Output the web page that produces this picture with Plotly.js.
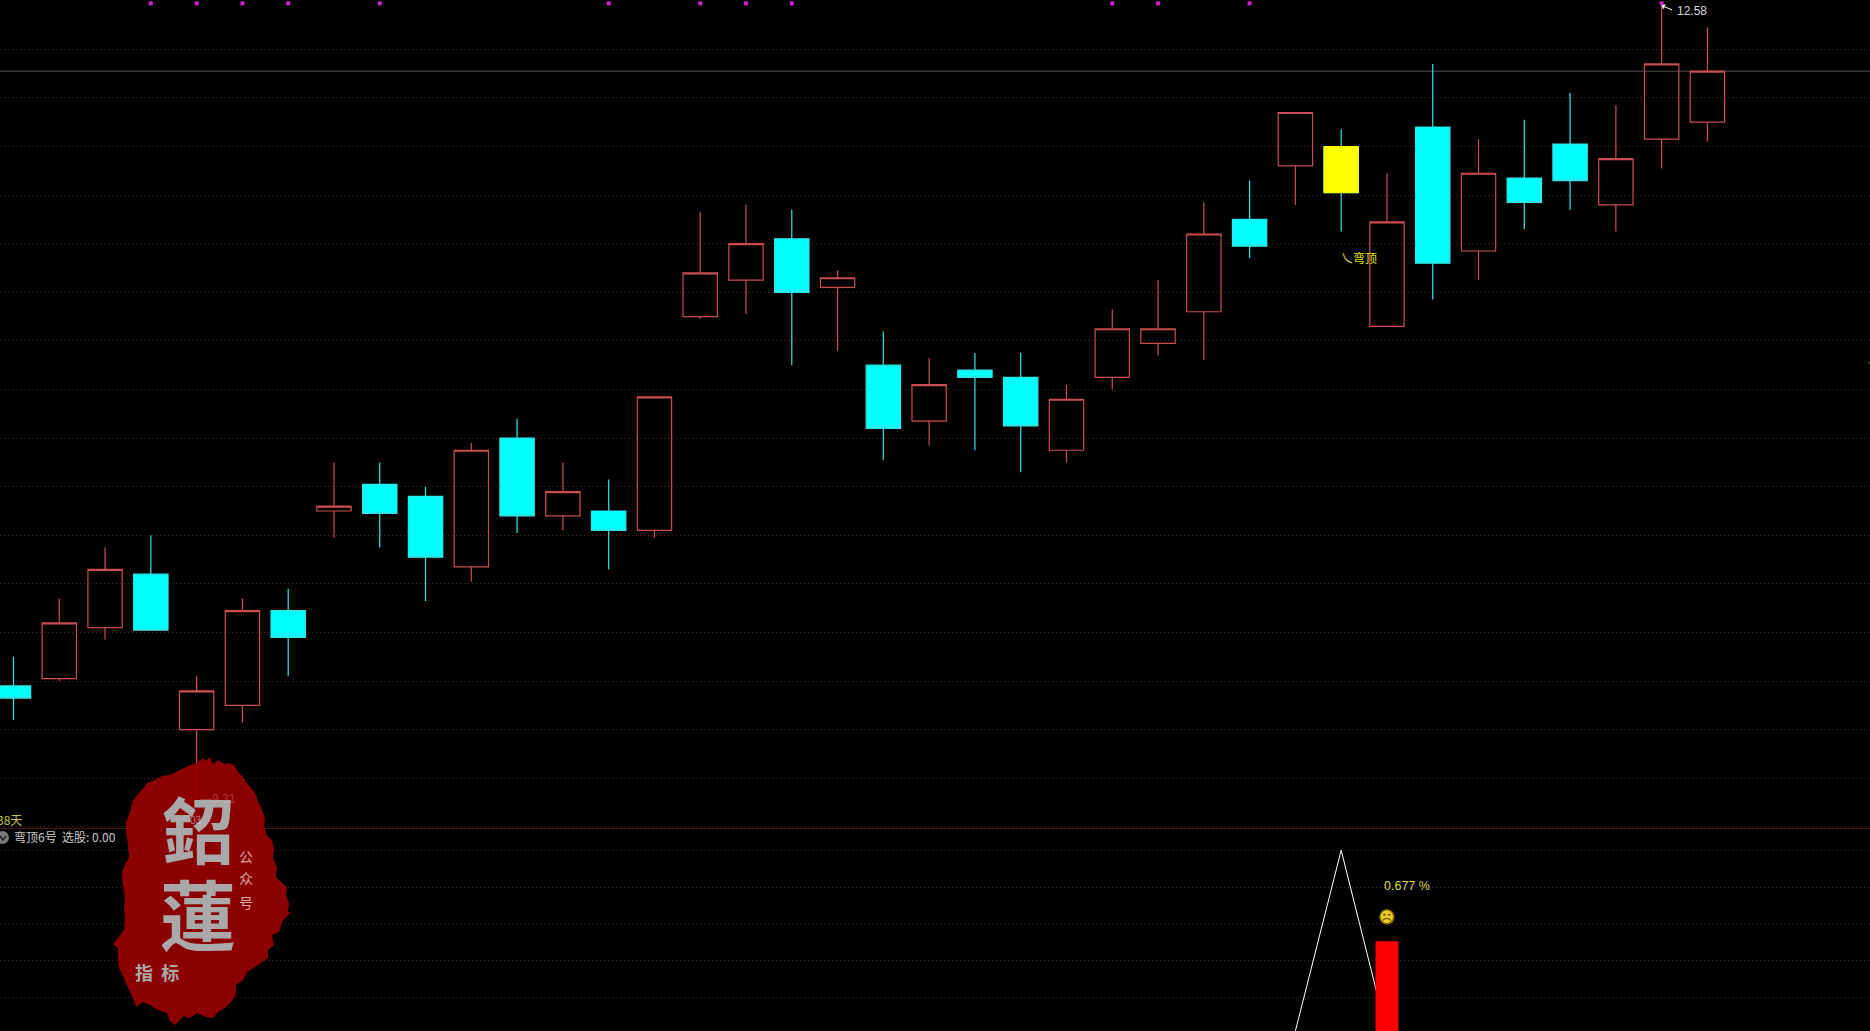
<!DOCTYPE html>
<html><head><meta charset="utf-8">
<script src="https://cdn.plot.ly/plotly-3.0.1.min.js"></script>
<style>html,body{margin:0;padding:0;background:#000;overflow:hidden}#c{width:1870px;height:1031px}</style>
</head><body><div id="c"></div>
<script>
// ---- price data ----
const days   = [0,1,2,3,4,5,6,7,8,9,10,11,12,13,14,15,16,17,18,19,20,21,22,23,24,25,26,27,28,29,30,31,32,33,34,35,36,37];
const opens  = [9.78,9.81,10.02,10.24,9.60,9.70,10.09,10.50,10.61,10.56,10.27,10.80,10.48,10.50,10.42,11.30,11.45,11.62,11.42,11.10,10.87,11.08,11.05,10.75,11.05,11.19,11.32,11.70,11.92,12.00,11.26,12.08,11.57,11.87,12.01,11.76,12.03,12.10];
const highs  = [9.90,10.14,10.35,10.40,9.82,10.14,10.18,10.70,10.70,10.60,10.78,10.88,10.70,10.63,10.97,11.73,11.76,11.74,11.49,11.24,11.13,11.15,11.15,11.02,11.33,11.45,11.77,11.86,12.14,12.07,11.89,12.34,12.03,12.11,12.22,12.17,12.58,12.49];
const lows   = [9.64,9.80,9.97,10.01,9.31,9.63,9.82,10.39,10.35,10.13,10.21,10.41,10.42,10.26,10.39,11.29,11.31,11.10,11.16,10.71,10.77,10.75,10.66,10.70,11.00,11.14,11.12,11.54,11.76,11.65,11.26,11.37,11.45,11.66,11.74,11.65,11.91,12.02];
const closes = [9.73,10.04,10.26,10.01,9.76,10.09,9.98,10.52,10.49,10.31,10.75,10.48,10.58,10.42,10.97,11.48,11.60,11.40,11.46,10.84,11.02,11.05,10.85,10.96,11.25,11.25,11.64,11.59,12.14,11.81,11.69,11.52,11.89,11.77,11.86,11.95,12.34,12.31];
const signalDay = [29], signalOpen = [12.00], signalClose = [11.81];
const markDays = [3,4,5,6,8,13,15,16,17,24,25,27,36];
const markLevel = [12.589,12.589,12.589,12.589,12.589,12.589,12.589,12.589,12.589,12.589,12.589,12.589,12.589];
const lastPrice = 12.31, highLabel = '12.58', lowLabel = '—9.31', rightTickPrice = 11.11;
// ---- lower indicator ----
const lineDays = [28,29,30];
const lineVals = [-0.92,4.01,-0.97];
const barDays = [30], barTop = [3.53], barBase = [-2];
const faceDay = [30], faceVal = [2.19];
const pctLabel = '0.677 %';
const indicatorTitle = '弯顶6号&nbsp;&nbsp;选股: 0.00';
const daysLabel = '38天';

// ---- page geometry helpers ----
const W = 1870, H = 1031, split = 829;
const px = x => x / W, py = y => 1 - y / H;
const red = '#cb4e4e', cyan = '#00ffff', yellow = '#ffff00';
const cjk = '"Noto Sans CJK SC","Noto Sans",sans-serif';

const sealOutline = [[197,763],[203,758],[206,761],[210,757],[213,764],[218,760],[224,764],[230,763],[235,766],[238,772],[244,778],[247,784],[250,786],[256,795],[258,802],[260,805],[265,818],[264,826],[267,836],[272,840],[274,850],[273,858],[277,868],[276,877],[281,882],[287,887],[286,895],[289,903],[288,912],[291,913],[283,920],[279,932],[272,935],[274,945],[268,950],[268,958],[258,965],[247,972],[243,980],[236,985],[236,995],[230,1003],[225,1008],[218,1012],[213,1018],[206,1017],[197,1013],[190,1018],[184,1016],[175,1025],[170,1021],[167,1013],[158,1010],[150,1005],[143,1002],[136,1007],[133,998],[128,988],[124,978],[119,968],[118,958],[118,948],[113,944],[118,938],[124,930],[125,918],[124,908],[125,898],[123,885],[122,872],[125,865],[129,857],[128,845],[126,832],[126,822],[130,812],[133,800],[140,792],[147,783],[155,780],[162,776],[170,775],[180,770],[190,765]];
const sealPath = 'M' + sealOutline.map(p => px(p[0]).toFixed(5) + ' ' + py(p[1]).toFixed(5)).join(' L') + ' Z';

const traces = [
  {type:'candlestick', x:days, open:opens, high:highs, low:lows, close:closes, whiskerwidth:0,
   increasing:{line:{color:red,width:1.2}, fillcolor:'rgba(0,0,0,0)'},
   decreasing:{line:{color:'#2ce8e8',width:1.2}, fillcolor:cyan}, hoverinfo:'skip'},
  {type:'candlestick', x:signalDay, open:signalOpen, high:signalOpen, low:signalClose, close:signalClose, whiskerwidth:0,
   increasing:{line:{color:yellow,width:1}, fillcolor:yellow},
   decreasing:{line:{color:yellow,width:1}, fillcolor:yellow}, hoverinfo:'skip'},
  {type:'scatter', mode:'markers', x:markDays, y:markLevel, marker:{symbol:'square', size:4, color:'#d41ed4'}, hoverinfo:'skip', cliponaxis:false},
  {type:'scatter', mode:'lines', x:lineDays, y:lineVals, yaxis:'y2', line:{color:'#ffffff',width:1}, hoverinfo:'skip'},
  {type:'bar', x:barDays, y:barTop, base:barBase, yaxis:'y3', width:0.5, marker:{color:'#ff0000',line:{width:0}}, hoverinfo:'skip'},
  {type:'scatter', mode:'markers', x:faceDay, y:faceVal, yaxis:'y2', marker:{symbol:'circle', size:15, color:'#f0cc28'}, hoverinfo:'skip'}
];

const layout = {
  width:W, height:H, margin:{l:0,r:0,t:0,b:0}, showlegend:false,
  paper_bgcolor:'#000', plot_bgcolor:'#000', boxgap:0.25, boxgroupgap:0,
  xaxis:{range:[-0.295,40.551], visible:false, fixedrange:true, rangeslider:{visible:false}, anchor:'y2'},
  yaxis:{domain:[(H-split)/H,1], range:[9.1914,12.6029], tick0:0, dtick:0.2, showgrid:true, griddash:'1px,3px', gridcolor:'#5e1e18', gridwidth:1, showticklabels:false, zeroline:false, ticks:'', showline:false, fixedrange:true},
  yaxis2:{domain:[0,(H-split)/H], range:[-0.918,4.59], tick0:0, dtick:1, showgrid:true, griddash:'1px,3px', gridcolor:'#5e1e18', gridwidth:1, showticklabels:false, zeroline:false, ticks:'', showline:false, fixedrange:true},
  yaxis3:{overlaying:'y2', range:[-0.918,4.59], visible:false, showgrid:false, fixedrange:true},
  shapes:[
    {type:'line', xref:'paper', yref:'y', x0:0, x1:1, y0:lastPrice, y1:lastPrice, line:{color:'#505050',width:1}, layer:'below'},
    {type:'line', xref:'paper', yref:'y', x0:px(1868), x1:1, y0:rightTickPrice, y1:rightTickPrice, line:{color:'#3aa03a',width:1}},
    {type:'line', xref:'paper', yref:'paper', x0:0, x1:1, y0:py(828.5), y1:py(828.5), line:{color:'#541010',width:1}, layer:'below'},
    {type:'path', xref:'paper', yref:'paper', path:sealPath, fillcolor:'rgba(150,0,0,0.93)', line:{width:0}, layer:'above'},
    {type:'circle', xref:'paper', yref:'paper', x0:px(-4), x1:px(9), y0:py(844), y1:py(831), fillcolor:'#7a7a7a', line:{width:0}},
    {type:'path', xref:'paper', yref:'paper', path:`M${px(0)} ${py(836)} L${px(3)} ${py(840)} L${px(6)} ${py(836)}`, line:{color:'#222',width:1.5}}
  ],
  annotations:[
    {xref:'x',yref:'y',x:36,y:12.58,ax:12,ay:5,text:'',showarrow:true,arrowhead:1,arrowsize:1,arrowwidth:1,arrowcolor:'#ffffff',standoff:0},
    {xref:'x',yref:'y',x:36,y:12.58,xanchor:'left',yanchor:'middle',xshift:13,yshift:-5,text:highLabel,showarrow:false,font:{family:'Liberation Sans',size:12,color:'#d8d8d8'}},
    {xref:'x',yref:'y',x:29,y:11.54,xanchor:'left',yanchor:'middle',xshift:-2,yshift:1,text:'乀弯顶',showarrow:false,font:{family:cjk,size:12,color:'#e0e020'}},
    {xref:'x',yref:'y2',x:30,y:3.03,xanchor:'left',yanchor:'middle',xshift:-5,text:pctLabel,showarrow:false,font:{family:'Liberation Sans',size:12.5,color:'#dcdc40'}},
    {xref:'x',yref:'y2',x:30,y:2.19,xanchor:'center',yanchor:'middle',text:'☹',showarrow:false,font:{family:'DejaVu Sans',size:17,color:'#6b5200'}},
    {xref:'paper',yref:'paper',x:px(-5),y:py(819),xanchor:'left',yanchor:'middle',text:daysLabel,showarrow:false,font:{family:cjk,size:12,color:'#c4c440'}},
    {xref:'paper',yref:'paper',x:px(12),y:py(836),xanchor:'left',yanchor:'middle',text:indicatorTitle,showarrow:false,font:{family:cjk,size:12,color:'#c8c8c8'}},
    {xref:'paper',yref:'paper',x:px(198),y:py(826),xanchor:'center',yanchor:'middle',text:'鉊',showarrow:false,font:{family:cjk,size:72,color:'#a9a9a9',weight:700}},
    {xref:'paper',yref:'paper',x:px(198),y:py(912),xanchor:'center',yanchor:'middle',text:'蓮',showarrow:false,font:{family:cjk,size:76,color:'#a9a9a9',weight:700}},
    {xref:'paper',yref:'paper',x:px(157),y:py(972),xanchor:'center',yanchor:'middle',text:'指&nbsp;&nbsp;标',showarrow:false,font:{family:cjk,size:18,color:'#a9a9a9',weight:700}},
    {xref:'paper',yref:'paper',x:px(246),y:py(856),xanchor:'center',yanchor:'middle',text:'公',showarrow:false,font:{family:cjk,size:14,color:'#d8a8a8'}},
    {xref:'paper',yref:'paper',x:px(246),y:py(878),xanchor:'center',yanchor:'middle',text:'众',showarrow:false,font:{family:cjk,size:14,color:'#d8a8a8'}},
    {xref:'paper',yref:'paper',x:px(246),y:py(902),xanchor:'center',yanchor:'middle',text:'号',showarrow:false,font:{family:cjk,size:14,color:'#d8a8a8'}},
    {xref:'paper',yref:'paper',x:px(198),y:py(799),xanchor:'left',yanchor:'middle',text:lowLabel,showarrow:false,font:{family:'Liberation Sans',size:12,color:'rgba(255,190,190,0.3)'}},
    {xref:'paper',yref:'paper',x:px(196),y:py(820),xanchor:'center',yanchor:'middle',text:'03',showarrow:false,font:{family:'Liberation Sans',size:10,color:'rgba(220,235,255,0.55)'}}
  ]
};
Plotly.newPlot('c', traces, layout, {staticPlot:true, displayModeBar:false});
</script></body></html>
